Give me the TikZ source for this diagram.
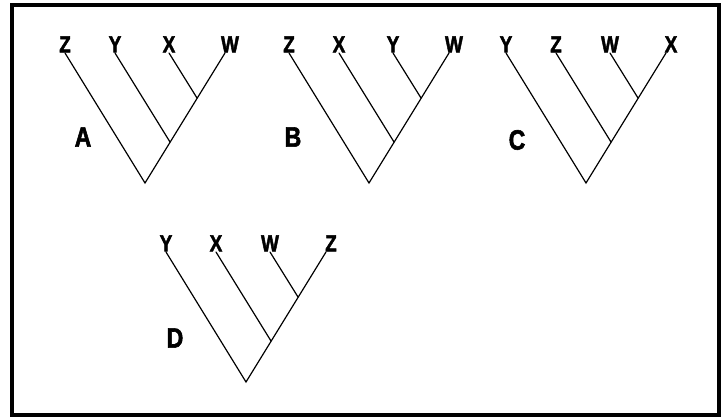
\documentclass[tikz,border=0pt]{standalone}
\usepackage{fontspec}
\newfontfamily\labfont[FakeStretch=0.82,FakeBold=2]{Liberation Sans Bold}
\usetikzlibrary{calc}
\tikzset{
  branch/.style={line width=1.2pt, line cap=round},
  taxon/.style={font=\labfont\fontsize{23}{23}\selectfont, anchor=south, inner sep=0.5pt},
  treetag/.style={font=\labfont\fontsize{28}{28}\selectfont, inner sep=0pt},
}

\begin{document}
\begin{tikzpicture}[x=1pt,y=-1pt]
  \useasboundingbox (0,0) rectangle (726,417);
  \draw[line width=4pt] (12,5) rectangle (719,414.5);
  % root x/y, tag, tag x/y, leaves from left to right
  \foreach \rx/\ry/\tag/\tx/\ty/\a/\b/\c/\d in {145/183/A/83/137/Z/Y/X/W,
      369/183/B/293/137/Z/X/Y/W,
      586/183/C/517/140/Y/Z/W/X,
      246/382/D/175/338/Y/X/W/Z} {
    \coordinate (\tag-root) at (\rx,\ry);
    \coordinate (\tag-n1) at ($(\tag-root)+(25,-41)$);
    \coordinate (\tag-n2) at ($(\tag-root)+(52,-85)$);
    \coordinate (\tag-l1) at ($(\tag-root)+(-80,-130)$);
    \coordinate (\tag-l2) at ($(\tag-root)+(-30,-130)$);
    \coordinate (\tag-l3) at ($(\tag-root)+(24,-130)$);
    \coordinate (\tag-l4) at ($(\tag-root)+(80,-130)$);
    \node[taxon] (\tag-t1) at (\tag-l1) {\a};
    \node[taxon] (\tag-t2) at (\tag-l2) {\b};
    \node[taxon] (\tag-t3) at (\tag-l3) {\c};
    \node[taxon, xshift=5pt] (\tag-t4) at (\tag-l4) {\d};
    \draw[branch] (\tag-l1) -- (\tag-root) -- (\tag-l4);
    \draw[branch] (\tag-l2) -- (\tag-n1);
    \draw[branch] (\tag-l3) -- (\tag-n2);
    \node[treetag] (\tag-name) at (\tx,\ty) {\tag};
  }
\end{tikzpicture}
\end{document}
